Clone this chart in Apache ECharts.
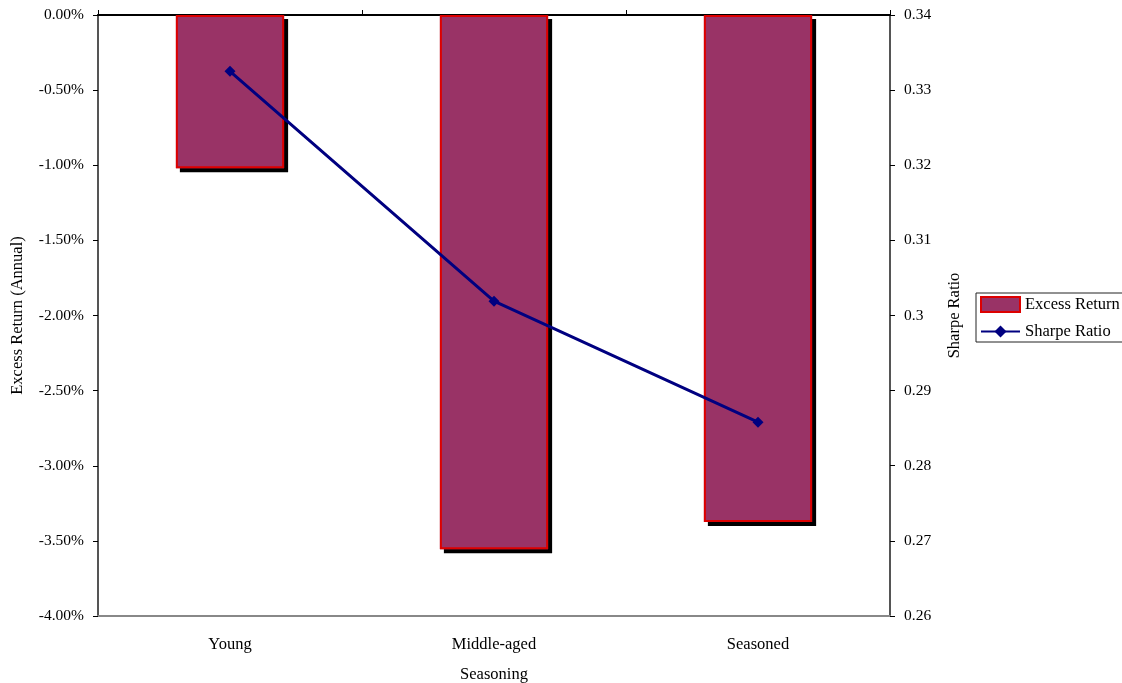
<!DOCTYPE html>
<html><head><meta charset="utf-8">
<script src="https://cdn.jsdelivr.net/npm/echarts@6/dist/echarts.min.js"></script>
<style>html,body{margin:0;padding:0;background:#fff}#c{width:1122px;height:683px}</style>
</head><body><div id="c"></div>
<script>
const categories = ['Young', 'Middle-aged', 'Seasoned'];
const excessReturn = [-1.02, -3.555, -3.375];
const sharpeRatio = [0.3325, 0.3019, 0.2858];
const leftTicksMin = -4, leftTicksMax = 0, leftInterval = 0.5;
const rightMin = 0.26, rightMax = 0.34, rightInterval = 0.01;

const font = 'Liberation Serif';
const tickFs = 15.5, nameFs = 16.5;
const chart = echarts.init(document.getElementById('c'));
chart.setOption({
  animation: false,
  textStyle: { fontFamily: font },
  grid: { left: 98, right: 232, top: 15, bottom: 67, containLabel: false, outerBoundsMode: 'none' },
  legend: {
    orient: 'vertical', left: 976, top: 293,
    backgroundColor: '#fff', borderColor: '#222', borderWidth: 1,
    padding: [3, 3, 2, 4], itemGap: 10, itemWidth: 39, itemHeight: 15,
    textStyle: { fontFamily: font, fontSize: nameFs, color: '#000' },
    data: [
      { name: 'Excess Return', icon: 'rect' },
      { name: 'Sharpe Ratio' }
    ]
  },
  xAxis: [
    {
      type: 'category', data: categories, position: 'top',
      axisLine: { show: true, onZero: false, lineStyle: { color: '#000', width: 2 } },
      axisTick: { show: true, inside: false, length: 5, lineStyle: { color: '#000' } },
      axisLabel: { show: false }
    },
    {
      type: 'category', data: categories, position: 'bottom',
      name: 'Seasoning', nameLocation: 'middle', nameGap: 50,
      nameTextStyle: { fontFamily: font, fontSize: nameFs, color: '#000' },
      axisLine: { show: true, onZero: false, lineStyle: { color: '#888', width: 2 } },
      axisTick: { show: false },
      axisLabel: { fontFamily: font, fontSize: nameFs, color: '#000', margin: 20 }
    }
  ],
  yAxis: [
    {
      type: 'value', min: leftTicksMin, max: leftTicksMax, interval: leftInterval,
      name: 'Excess Return (Annual)', nameLocation: 'middle', nameGap: 72, nameRotate: 90,
      nameTextStyle: { fontFamily: font, fontSize: nameFs, color: '#000' },
      axisLine: { show: true, onZero: false, lineStyle: { color: '#555', width: 2 } },
      axisTick: { show: true, length: 5, lineStyle: { color: '#000' } },
      splitLine: { show: false },
      axisLabel: { fontFamily: font, fontSize: tickFs, color: '#000', margin: 14,
        formatter: v => v.toFixed(2) + '%' }
    },
    {
      type: 'value', min: rightMin, max: rightMax, interval: rightInterval, position: 'right',
      name: 'Sharpe Ratio', nameLocation: 'middle', nameGap: 56, nameRotate: 90,
      nameTextStyle: { fontFamily: font, fontSize: nameFs, color: '#000' },
      axisLine: { show: true, lineStyle: { color: '#555', width: 2 } },
      axisTick: { show: true, length: 5, inside: false, lineStyle: { color: '#000' } },
      splitLine: { show: false },
      axisLabel: { fontFamily: font, fontSize: tickFs, color: '#000', margin: 14,
        formatter: v => String(parseFloat(v.toFixed(2))) }
    }
  ],
  series: [
    {
      name: 'bar-shadow', type: 'bar', xAxisIndex: 0, yAxisIndex: 0,
      data: excessReturn, barWidth: '41%', barGap: '-100%', silent: true,
      itemStyle: { color: '#993366',
        shadowColor: '#000', shadowOffsetX: 4, shadowOffsetY: 4, shadowBlur: 0 }
    },
    {
      name: 'Excess Return', type: 'bar', xAxisIndex: 0, yAxisIndex: 0,
      data: excessReturn, barWidth: '41%', barGap: '-100%',
      itemStyle: { color: '#993366', borderColor: '#dd0000', borderWidth: 2 }
    },
    {
      name: 'Sharpe Ratio', type: 'line', xAxisIndex: 0, yAxisIndex: 1,
      data: sharpeRatio, symbol: 'diamond', symbolSize: 11, z: 5,
      lineStyle: { color: '#000080', width: 3 },
      itemStyle: { color: '#000080' }
    }
  ]
});
</script></body></html>
